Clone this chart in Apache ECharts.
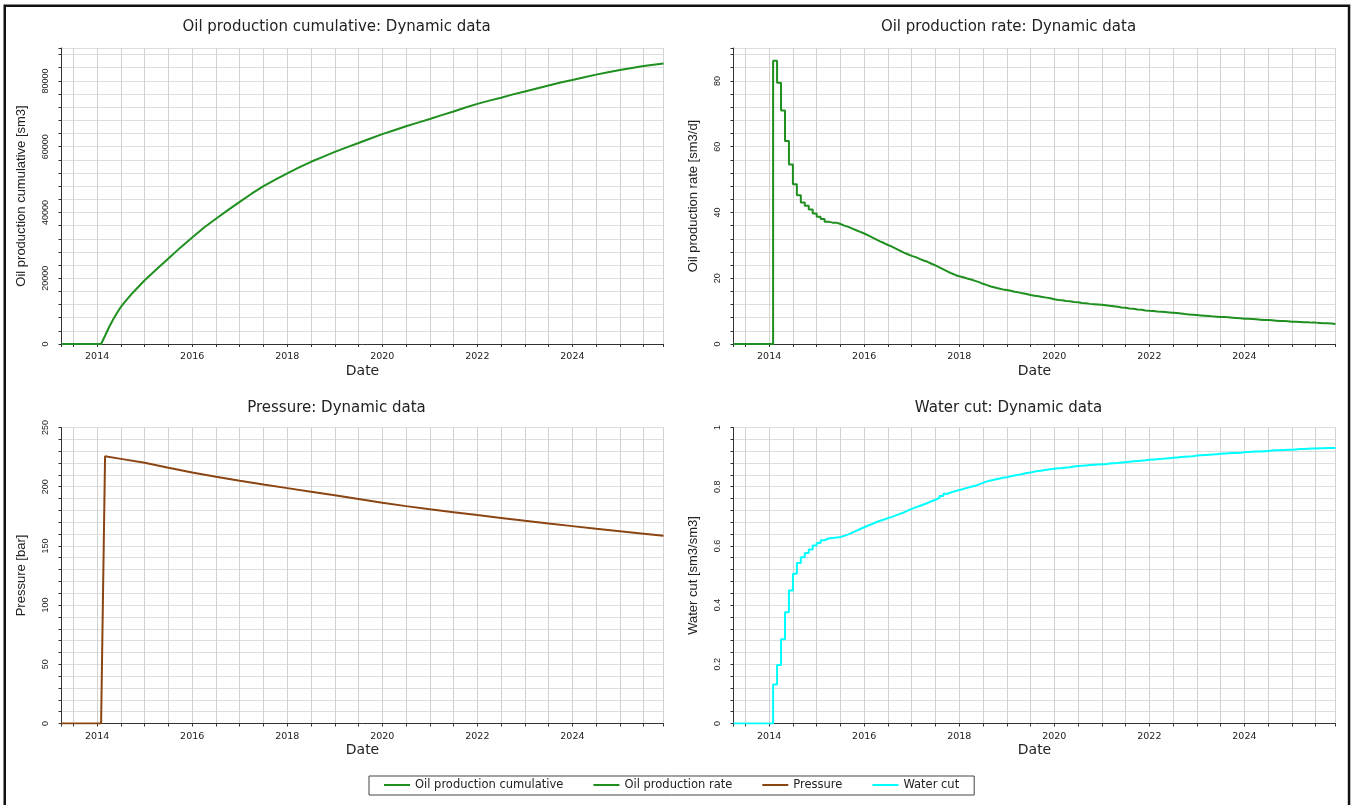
<!DOCTYPE html>
<html>
<head>
<meta charset="utf-8">
<script src="https://cdn.jsdelivr.net/npm/echarts@6/dist/echarts.min.js"></script>
<style>
html,body{margin:0;padding:0;background:#fff;}
#c{width:1352px;height:805px;}
</style>
</head>
<body>
<div id="c"></div>
<script>
// ---------- DATA ----------
const seriesNames = ['Oil production cumulative', 'Oil production rate', 'Pressure', 'Water cut'];
const panelTitles = ['Oil production cumulative: Dynamic data', 'Oil production rate: Dynamic data', 'Pressure: Dynamic data', 'Water cut: Dynamic data'];
const yAxisNames = ['Oil production cumulative [sm3]', 'Oil production rate [sm3/d]', 'Pressure [bar]', 'Water cut [sm3/sm3]'];
const xAxisName = 'Date';
const dateStart = '2013-04';
const dateEnd = '2025-12';

// Oil production cumulative [sm3]
const cumDates = ['2013-04','2014-02','2014-03','2014-04','2014-05','2014-06','2014-07','2014-08','2014-10',
  '2015-01','2015-04','2015-07','2015-10','2016-01','2016-04','2016-07','2016-10',
  '2017-01','2017-04','2017-07','2017-10','2018-01','2018-04','2018-07','2018-10',
  '2019-01','2019-04','2019-07','2019-10','2020-01','2020-04','2020-07','2020-10',
  '2021-01','2021-04','2021-07','2021-10','2022-01','2022-04','2022-07','2022-10',
  '2023-01','2023-04','2023-07','2023-10','2024-01','2024-04','2024-07','2024-10',
  '2025-01','2025-04','2025-07','2025-10','2025-12'];
const cumValues = [0,0,2500,5100,7400,9400,11300,12800,15600,
  19400,22700,26000,29300,32400,35400,38100,40700,
  43200,45700,48000,50000,51900,53700,55400,56900,
  58400,59800,61100,62500,63800,65000,66200,67300,
  68400,69600,70700,71900,73000,74000,74900,75900,
  76800,77700,78600,79500,80300,81100,81900,82600,
  83300,83900,84500,85000,85300];

// Monthly report dates for rate and water cut (first production month .. last)
const monthlyFirst = '2014-02';
const monthlyLast = '2025-12';

// Oil production rate [sm3/d], monthly from 2014-02
const rateValues = [
  86.1, 79.4, 71.0, 61.7, 54.6, 48.6, 45.2, 43.0, 42.0, 40.9, 39.7,          // 2014 Feb-Dec
  38.7, 38.0, 37.2, 36.9, 36.9, 36.5, 36.0, 35.6, 35.1, 34.6, 34.1, 33.6,    // 2015
  33.0, 32.4, 31.8, 31.2, 30.7, 30.1, 29.6, 29.0, 28.4, 27.8, 27.3, 26.8,    // 2016
  26.4, 25.9, 25.4, 25.0, 24.4, 23.9, 23.3, 22.7, 22.1, 21.5, 21.0, 20.6,    // 2017
  20.3, 19.9, 19.6, 19.2, 18.8, 18.3, 17.9, 17.5, 17.2, 16.9, 16.6, 16.4,    // 2018
  16.2, 15.9, 15.7, 15.4, 15.2, 14.9, 14.7, 14.5, 14.3, 14.1, 13.9, 13.6,    // 2019
  13.4, 13.3, 13.1, 13.0, 12.8, 12.7, 12.5, 12.4, 12.2, 12.1, 12.0, 11.9,    // 2020
  11.8, 11.6, 11.5, 11.3, 11.1, 11.0, 10.8, 10.7, 10.5, 10.4, 10.2, 10.1,    // 2021
  10.05, 9.9, 9.8, 9.7, 9.6, 9.5, 9.4, 9.3, 9.1, 9.0, 8.9, 8.8,              // 2022
  8.7, 8.6, 8.5, 8.4, 8.3, 8.2, 8.2, 8.1, 8.0, 7.9, 7.8, 7.7,                // 2023
  7.7, 7.6, 7.5, 7.4, 7.3, 7.3, 7.2, 7.1, 7.0, 7.0, 6.9, 6.8,                // 2024
  6.8, 6.7, 6.6, 6.6, 6.5, 6.5, 6.4, 6.3, 6.3, 6.2, 6.1, 6.1                 // 2025
];

// Water cut [sm3/sm3], monthly from 2014-02
const wcutValues = [
  0.132, 0.198, 0.285, 0.376, 0.449, 0.506, 0.542, 0.562, 0.576, 0.588, 0.601,          // 2014 Feb-Dec
  0.610, 0.619, 0.625, 0.627, 0.628, 0.630, 0.634, 0.639, 0.645, 0.651, 0.657, 0.663,   // 2015
  0.669, 0.674, 0.680, 0.685, 0.689, 0.694, 0.698, 0.703, 0.708, 0.713, 0.719, 0.725,   // 2016
  0.730, 0.735, 0.740, 0.745, 0.751, 0.756, 0.762, 0.769, 0.776, 0.781, 0.785, 0.789,   // 2017
  0.792, 0.796, 0.800, 0.803, 0.808, 0.813, 0.818, 0.821, 0.824, 0.827, 0.830, 0.832,   // 2018
  0.835, 0.838, 0.840, 0.843, 0.846, 0.848, 0.851, 0.853, 0.855, 0.857, 0.859, 0.861,   // 2019
  0.862, 0.863, 0.865, 0.866, 0.868, 0.870, 0.871, 0.872, 0.873, 0.874, 0.875, 0.876,   // 2020
  0.876, 0.878, 0.879, 0.880, 0.882, 0.883, 0.884, 0.886, 0.887, 0.888, 0.889, 0.891,   // 2021
  0.892, 0.893, 0.894, 0.895, 0.896, 0.898, 0.899, 0.900, 0.901, 0.902, 0.903, 0.905,   // 2022
  0.906, 0.907, 0.908, 0.909, 0.910, 0.911, 0.912, 0.913, 0.914, 0.914, 0.915, 0.916,   // 2023
  0.917, 0.918, 0.919, 0.919, 0.920, 0.921, 0.922, 0.923, 0.923, 0.924, 0.925, 0.925,   // 2024
  0.926, 0.927, 0.927, 0.928, 0.929, 0.929, 0.930, 0.930, 0.931, 0.931, 0.931, 0.931    // 2025
];

// Pressure [bar]
const presDates = ['2013-04','2014-02','2014-03','2014-07','2015-01','2015-07','2016-01','2016-07',
  '2017-01','2017-07','2018-01','2018-07','2019-01','2019-07','2020-01','2020-07',
  '2021-01','2021-07','2022-01','2022-07','2023-01','2023-07','2024-01','2024-07',
  '2025-01','2025-07','2025-12'];
const presValues = [0,0,225.7,223.5,220.2,216.0,212.0,208.4,
  205.0,201.8,198.8,195.8,192.8,189.6,186.4,183.6,
  181.0,178.5,176.0,173.6,171.2,168.9,166.7,164.5,
  162.4,160.3,158.5];

// Axis scales
const yMax = [90000, 90, 250, 1];
const yStep = [4000, 4, 10, 0.04];
const yLabelStep = [20000, 20, 50, 0.2];
const xStep = 0.5;   // half-year grid
const xLabelStep = 2; // label every second year

const colors = ['#1f8f1f', '#1f8f1f', '#8b4513', '#00ffff'];

// ---------- HELPERS ----------
function toYear(s) { const p = s.split('-'); return +p[0] + (+p[1] - 1) / 12; }
function monthSeq(a, b) {
  const out = []; let y = +a.split('-')[0], m = +a.split('-')[1];
  const ye = +b.split('-')[0], me = +b.split('-')[1];
  while (y < ye || (y === ye && m <= me)) {
    out.push(y + '-' + (m < 10 ? '0' + m : m));
    m++; if (m > 12) { m = 1; y++; }
  }
  return out;
}
const monthly = monthSeq(monthlyFirst, monthlyLast);
function pairs(dates, vals) { return dates.map((d, i) => [toYear(d), vals[i]]); }
const cumData = pairs(cumDates, cumValues);
const rateData = [[toYear(dateStart), 0]].concat(pairs(monthly, rateValues));
const presData = pairs(presDates, presValues);
const wcutData = [[toYear(dateStart), 0]].concat(pairs(monthly, wcutValues));

const grids = [
  {left: 61.5, top: 48, width: 602, height: 296},
  {left: 733.5, top: 48, width: 602, height: 296},
  {left: 61.5, top: 427.5, width: 602, height: 296},
  {left: 733.5, top: 427.5, width: 602, height: 296}
];
const titleCenters = [[336.5, 27.5], [1008.5, 27.5], [336.5, 408.5], [1008.5, 408.5]];

const HF = 'DejaVu Sans';
const VF = 'Liberation Sans';

const xAxes = grids.map((g, i) => ({
  type: 'value', gridIndex: i,
  min: toYear(dateStart), max: toYear(dateEnd), splitNumber: 25,
  minInterval: xStep, maxInterval: xStep,
  name: xAxisName, nameLocation: 'middle', nameGap: 20,
  nameTextStyle: {fontFamily: HF, fontSize: 14, color: '#222'},
  axisLine: {show: true, onZero: false, lineStyle: {color: '#333', width: 1}},
  axisTick: {show: true, length: 3, lineStyle: {color: '#333'}},
  axisLabel: {
    margin: 8, fontFamily: HF, fontSize: 9.5, color: '#222', showMinLabel: true, showMaxLabel: true,
    formatter: v => { const r = Math.round(v); return (Math.abs(v - r) < 1e-6 && r % xLabelStep === 0) ? String(r) : ''; }
  },
  splitLine: {show: true, lineStyle: {color: '#d2d2d2', width: 1}}
}));

const yAxes = grids.map((g, i) => ({
  type: 'value', gridIndex: i, min: 0, max: yMax[i], interval: yStep[i],
  name: yAxisNames[i], nameLocation: 'middle', nameGap: 34, nameRotate: 90,
  nameTextStyle: {fontFamily: VF, fontSize: 13, color: '#222'},
  axisLine: {show: true, onZero: false, lineStyle: {color: '#333', width: 1}},
  axisTick: {show: true, length: 3, lineStyle: {color: '#333'}},
  axisLabel: {
    rotate: 90, margin: 11, fontFamily: VF, fontSize: 9, color: '#222', showMinLabel: true, showMaxLabel: true,
    formatter: v => {
      const k = v / yLabelStep[i];
      if (Math.abs(k - Math.round(k)) > 1e-6) return '';
      return String(Math.round(v * 100) / 100);
    }
  },
  splitLine: {show: true, lineStyle: {color: '#dedede', width: 1.2}}
}));

const datas = [cumData, rateData, presData, wcutData];
const steps = [false, 'end', false, 'end'];
const series = datas.map((d, i) => ({
  name: seriesNames[i], type: 'line', xAxisIndex: i, yAxisIndex: i, data: d,
  step: steps[i], showSymbol: false, symbol: 'none',
  color: colors[i],
  itemStyle: {color: colors[i]},
  lineStyle: {color: colors[i], width: 2},
  emphasis: {disabled: true}
}));

const graphics = panelTitles.map((t, i) => ({
  type: 'text', x: titleCenters[i][0], y: titleCenters[i][1], silent: true,
  style: {text: t, align: 'center', verticalAlign: 'middle', font: '15px "DejaVu Sans"', fill: '#222'}
}));
graphics.push({
  type: 'rect', silent: true, z: 100,
  shape: {x: 4.75, y: 5.7, width: 1344.3, height: 900},
  style: {fill: 'none', stroke: '#111', lineWidth: 2.5}
});

const chart = echarts.init(document.getElementById('c'), null, {renderer: 'canvas'});
chart.setOption({
  animation: false,
  backgroundColor: '#fff',
  grid: grids.map(g => Object.assign({containLabel: false, outerBoundsMode: 'none'}, g)),
  xAxis: xAxes,
  yAxis: yAxes,
  legend: {
    data: seriesNames, left: 369, top: 776, orient: 'horizontal',
    padding: [3, 15, 4, 15], borderColor: '#444', borderWidth: 1, backgroundColor: '#fff',
    itemWidth: 26, itemHeight: 2, itemGap: 30, icon: 'rect', selectedMode: false,
    textStyle: {fontFamily: HF, fontSize: 11.5, color: '#222'}
  },
  graphic: graphics,
  series: series
});
</script>
</body>
</html>
